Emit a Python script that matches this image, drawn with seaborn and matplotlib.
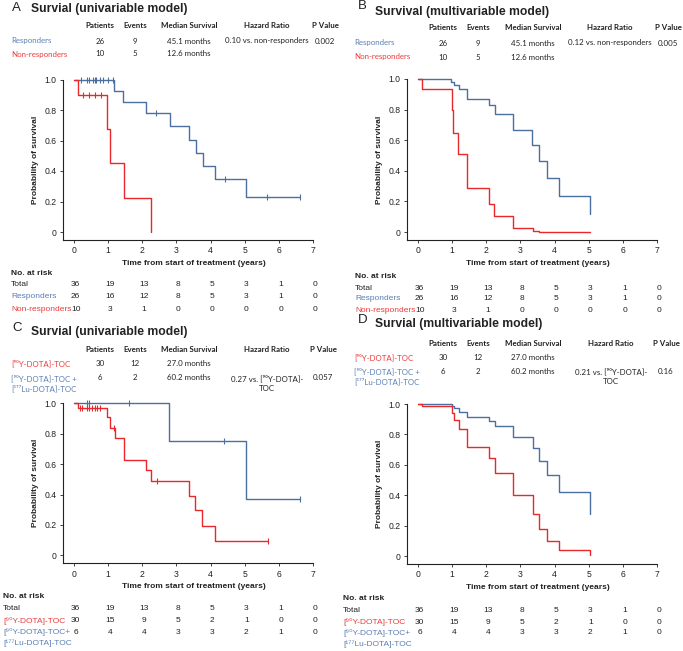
"""Kaplan-Meier survival panels (A-D) with header tables and numbers at risk."""

import matplotlib
import matplotlib.pyplot as plt
import numpy as np
import pandas as pd
import seaborn as sns
from matplotlib.transforms import blended_transform_factory

matplotlib.use("Agg")

W, H = 683, 651

BLUE = "#4c6fa2"
RED = "#e8282b"
TXT_BLUE = "#5b7fb4"
TXT_RED = "#ee3b3b"
DARK = "#222222"

# ---- survival curves: step times (years) and survival after each step ----
a_resp_t = [0, 1.18, 1.45, 2.10, 2.80, 3.37, 3.57, 3.79, 4.13, 5.05, 6.61]
a_resp_s = [1.0, 0.926, 0.855, 0.783, 0.695, 0.605, 0.52, 0.435, 0.345, 0.23, 0.23]
a_resp_cens = [0.2, 0.39, 0.45, 0.56, 0.62, 0.66, 0.76, 0.86, 0.99, 1.13, 2.40, 4.43, 5.65, 6.61]
a_non_t = [0, 0.13, 0.98, 1.06, 1.47, 2.27]
a_non_s = [1.0, 0.9, 0.675, 0.45, 0.225, 0.0]
a_non_cens = [0.27, 0.44, 0.62, 0.78]

b_resp_t = [0, 0.97, 1.06, 1.20, 1.45, 2.08, 2.26, 2.78, 3.35, 3.55, 3.78, 4.12, 5.05]
b_resp_s = [1.0, 0.978, 0.962, 0.933, 0.867, 0.831, 0.771, 0.665, 0.568, 0.466, 0.356, 0.236, 0.12]
b_non_t = [0, 0.13, 0.99, 1.04, 1.18, 1.45, 2.08, 2.24, 2.78, 3.36, 3.55, 5.05]
b_non_s = [1.0, 0.935, 0.80, 0.65, 0.51, 0.285, 0.186, 0.103, 0.028, 0.007, 0.002, 0.002]

c_combo_t = [0, 2.79, 5.03, 6.61]
c_combo_s = [1.0, 0.75, 0.373, 0.373]
c_combo_cens = [0.39, 0.45, 1.62, 4.40, 6.61]
c_y90_t = [0, 0.13, 0.98, 1.06, 1.20, 1.47, 2.10, 2.27, 3.37, 3.55, 3.76, 4.12, 5.68]
c_y90_s = [1.0, 0.967, 0.912, 0.84, 0.77, 0.63, 0.562, 0.49, 0.39, 0.297, 0.193, 0.097, 0.097]
c_y90_cens = [0.18, 0.25, 0.37, 0.45, 0.53, 0.62, 0.68, 0.76, 1.18, 2.42, 5.68]

d_combo_t = [0, 0.99, 1.06, 1.19, 1.45, 2.09, 2.26, 2.78, 3.37, 3.55, 3.78, 4.12, 5.05]
d_combo_s = [1.0, 0.987, 0.971, 0.949, 0.916, 0.888, 0.855, 0.78, 0.708, 0.626, 0.532, 0.418, 0.279]
d_y90_t = [0, 0.13, 0.99, 1.06, 1.19, 1.45, 2.09, 2.26, 2.78, 3.37, 3.55, 3.78, 4.12, 5.05]
d_y90_s = [1.0, 0.987, 0.943, 0.894, 0.837, 0.716, 0.642, 0.549, 0.40, 0.279, 0.18, 0.097, 0.037, 0.004]

# ---- numbers at risk (years 0..7) ----
risk_years = [0, 1, 2, 3, 4, 5, 6, 7]
risk_total = [36, 19, 13, 8, 5, 3, 1, 0]
risk_resp = [26, 16, 12, 8, 5, 3, 1, 0]
risk_non = [10, 3, 1, 0, 0, 0, 0, 0]
risk_y90 = [30, 15, 9, 5, 2, 1, 0, 0]
risk_combo = [6, 4, 4, 3, 3, 2, 1, 0]

# ---- header tables ----
col_names = ["Patients", "Events", "Median Survival", "Hazard Ratio", "P Value"]
resp_patients, resp_events = [26, 10], [9, 5]
resp_median = ["45.1 months", "12.6 months"]
y90_patients, y90_events = [30, 6], [12, 2]
y90_median = ["27.0 months", "60.2 months"]

Y90 = "[⁹⁰Y-DOTA]-TOC"
LU177 = "[¹⁷⁷Lu-DOTA]-TOC"

sns.set_style("ticks")
plt.rcParams["font.family"] = ["Liberation Sans", "DejaVu Sans"]

fig = plt.figure(figsize=(W / 100, H / 100), dpi=100)
fig.patch.set_facecolor("white")


def fx(x):
    return x / W


def fy(y):
    return 1 - y / H


def txt(x, y, s, **kw):
    kw.setdefault("va", "center")
    kw.setdefault("color", DARK)
    fig.text(fx(x), fy(y), s, **kw)


def step_value(t, s, c):
    idx = np.searchsorted(np.asarray(t), c, side="right") - 1
    return np.asarray(s)[idx]


def km_axes(left, top, bottom, curves):
    """curves: list of (times, surv, censor_times, color)."""
    ax = fig.add_axes([fx(left), fy(bottom), 250 / W, (bottom - top) / H])
    frames = []
    for i, (t, s, cens, color) in enumerate(curves):
        frames.append(pd.DataFrame({"time": t, "surv": s, "grp": str(i)}))
    df = pd.concat(frames)
    sns.lineplot(data=df, x="time", y="surv", hue="grp", palette=[c[3] for c in curves],
                 drawstyle="steps-post", estimator=None, sort=False, legend=False,
                 linewidth=1.0, ax=ax, clip_on=False)
    for t, s, cens, color in curves:
        if cens:
            cy = step_value(t, s, cens)
            sns.scatterplot(x=cens, y=cy, marker="|", s=14, linewidth=0.8, color=color,
                            ax=ax, clip_on=False, legend=False)
    ax.set_xlim(-0.32, 7.0)
    bot_pad = 8 / ((bottom - top - 8))
    ax.set_ylim(-bot_pad, 1.0)
    ax.set_xticks(range(8))
    ax.set_yticks([0, 0.2, 0.4, 0.6, 0.8, 1.0])
    ax.set_yticklabels(["0", "0.2", "0.4", "0.6", "0.8", "1.0"])
    ax.tick_params(labelsize=6.2, colors=DARK, length=2.5, width=0.6, pad=2)
    for side in ("left", "bottom"):
        ax.spines[side].set_linewidth(0.8)
        ax.spines[side].set_color(DARK)
    sns.despine(ax=ax)
    ax.set_xlabel("Time from start of treatment (years)", fontsize=6, fontweight="bold",
                  color=DARK)
    ax.set_ylabel("Probability of survival", fontsize=6, fontweight="bold",
                  color=DARK, labelpad=4)
    ax.xaxis.set_label_coords((0.32 + 3.5) / 7.32, -0.125)
    return ax


def risk_table(ax, x_lab, y_rows, labels, colors, rows):
    tr = blended_transform_factory(ax.transData, fig.transFigure)
    txt(x_lab, y_rows[0], "No. at risk", fontsize=6, fontweight="bold")
    for k, (lab, col) in enumerate(zip(labels, colors)):
        yy = y_rows[k + 1]
        for j, line in enumerate(lab.split("\n")):
            txt(x_lab, yy + j * 11, line, fontsize=6, color=col)
        for yr, n in zip(risk_years, rows[k]):
            ax.text(yr + 0.05, fy(yy), str(n), transform=tr, fontsize=6, color=DARK,
                    ha="center", va="center")


def header_table(xs, y_head, y_rows, labels, colors, patients, events, median, hr, pval):
    hfont = dict(fontsize=5.7, family=["Lato", "DejaVu Sans"])
    for x, name in zip(xs[1:], col_names):
        txt(x, y_head, name, ha="center", fontweight="bold", **hfont)
    for k in range(2):
        yy = y_rows[k]
        for j, line in enumerate(labels[k].split("\n")):
            txt(xs[0], yy + j * 10.5, line, color=colors[k], **hfont)
        txt(xs[1], yy, str(patients[k]), ha="center", **hfont)
        txt(xs[2], yy, str(events[k]), ha="center", **hfont)
        txt(xs[3], yy, median[k], ha="center", **hfont)
    row = 0 if "non" in hr else 1
    for j, line in enumerate(hr.split("\n")):
        txt(xs[4], y_rows[row] + j * 10.5, line, ha="center", **hfont)
    txt(xs[5], y_rows[row], pval, ha="center", **hfont)


def title(xl, yl, xt, yt, letter, s):
    txt(xl, yl, letter, fontsize=9.5)
    txt(xt, yt, s, fontsize=8.7, fontweight="bold")


# ---------------- Panel A ----------------
title(12, 8, 31, 9, "A", "Survial (univariable model)")
header_table([11, 100, 135, 189, 267, 325], 25, [41, 54],
             ["Responders", "Non-responders"], [TXT_BLUE, TXT_RED],
             resp_patients, resp_events, resp_median, "0.10 vs. non-responders", "0.002")
ax_a = km_axes(63, 79.5, 240, [(a_resp_t, a_resp_s, a_resp_cens, BLUE),
                               (a_non_t, a_non_s, a_non_cens, RED)])
risk_table(ax_a, 11, [273, 285, 297, 309], ["Total", "Responders", "Non-responders"],
           [DARK, TXT_BLUE, TXT_RED], [risk_total, risk_resp, risk_non])

# ---------------- Panel B ----------------
title(358, 6, 375, 12, "B", "Survival (multivariable model)")
header_table([354, 443, 478, 533, 610, 668], 28, [43, 57],
             ["Responders", "Non-responders"], [TXT_BLUE, TXT_RED],
             resp_patients, resp_events, resp_median, "0.12 vs. non-responders", "0.005")
ax_b = km_axes(407, 79, 240, [(b_resp_t, b_resp_s, [], BLUE),
                              (b_non_t, b_non_s, [], RED)])
risk_table(ax_b, 355, [277, 288, 299, 310], ["Total", "Responders", "Non-responders"],
           [DARK, TXT_BLUE, TXT_RED], [risk_total, risk_resp, risk_non])

# ---------------- Panel C ----------------
title(12, 328, 31, 332, "C", "Survial (univariable model)")
header_table([11, 100, 135, 189, 267, 323], 349, [363, 378],
             [Y90, Y90 + " +\n" + LU177], [TXT_RED, TXT_BLUE],
             y90_patients, y90_events, y90_median, "0.27 vs. [⁹⁰Y-DOTA]-\nTOC", "0.057")
ax_c = km_axes(63, 403.3, 563.3, [(c_combo_t, c_combo_s, c_combo_cens, BLUE),
                                  (c_y90_t, c_y90_s, c_y90_cens, RED)])
risk_table(ax_c, 3, [597, 609, 621, 632], ["Total", Y90, Y90 + "+\n" + LU177],
           [DARK, TXT_RED, TXT_BLUE], [risk_total, risk_y90, risk_combo])

# ---------------- Panel D ----------------
title(358, 320, 375, 324, "D", "Survial (multivariable model)")
header_table([354, 443, 478, 533, 611, 666], 343, [357, 371],
             [Y90, Y90 + " +\n" + LU177], [TXT_RED, TXT_BLUE],
             y90_patients, y90_events, y90_median, "0.21 vs. [⁹⁰Y-DOTA]-\nTOC", "0.16")
ax_d = km_axes(407, 404, 564, [(d_combo_t, d_combo_s, [], BLUE),
                               (d_y90_t, d_y90_s, [], RED)])
risk_table(ax_d, 343, [598, 610, 622, 633], ["Total", Y90, Y90 + "+\n" + LU177],
           [DARK, TXT_RED, TXT_BLUE], [risk_total, risk_y90, risk_combo])

fig.savefig("out.png", dpi=100)
plt.close(fig)
